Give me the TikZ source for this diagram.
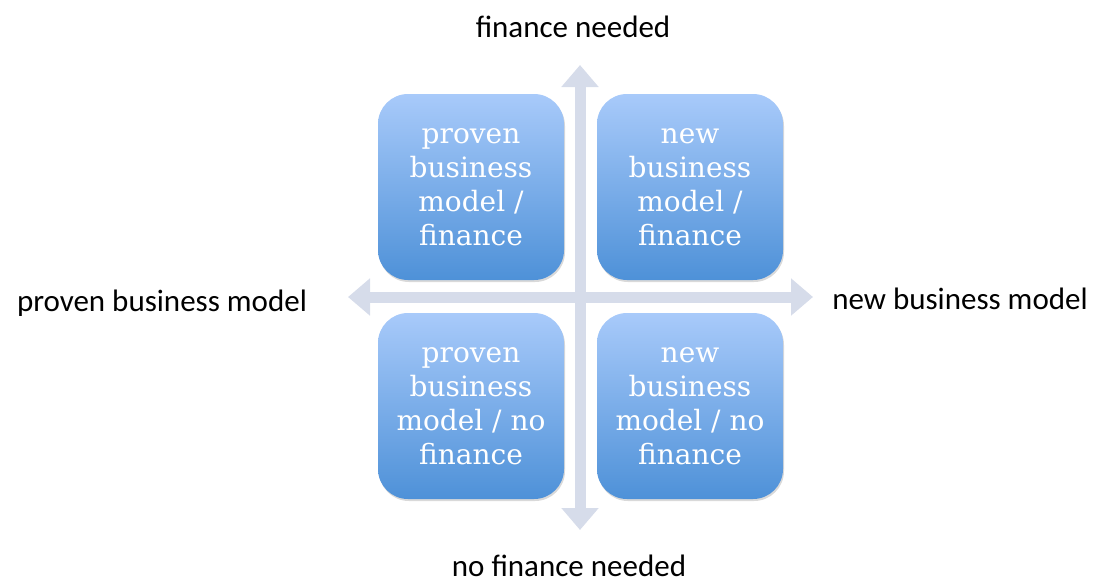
\documentclass[tikz,border=0pt]{standalone}
\usepackage{fontspec}
\setmainfont{Carlito}
\newfontfamily\boxfont{DejaVu Serif}
\usetikzlibrary{arrows.meta}
\usetikzlibrary{shadows}
\tikzset{q/.style={rounded corners=30pt, minimum width=186pt, minimum height=186pt, inner sep=0pt, top color=boxtop, bottom color=boxbot, text=white, align=center, font=\boxfont\fontsize{28}{34}\selectfont, drop shadow={opacity=0.3, shadow xshift=1pt, shadow yshift=-2pt}}}
\tikzset{l/.style={font=\fontsize{31}{31}\selectfont}}
\tikzset{ax/.style={axisgray, line width=11pt, {Triangle[width=36pt,length=22pt]}-{Triangle[width=36pt,length=22pt]}}}
\definecolor{axisgray}{RGB}{214,220,234}
\definecolor{boxtop}{RGB}{168,202,250}
\definecolor{boxbot}{RGB}{78,145,216}

\begin{document}
\begin{tikzpicture}[x=1pt,y=-1pt]
        \useasboundingbox (0,0) rectangle (1097,582);
        \coordinate (up) at (580,65);
        \coordinate (down) at (580,530);
        \coordinate (left) at (348,297);
        \coordinate (right) at (813,297);
        \draw[ax] (down) -- (up);
        \draw[ax] (left) -- (right);
        \node[q] (PF) at (471,187) {proven\\business\\model /\\finance};
        \node[q] (NF) at (690,187) {new\\business\\model /\\finance};
        \node[q] (PN) at (471,406) {proven\\business\\model / no\\finance};
        \node[q] (NN) at (690,406) {new\\business\\model / no\\finance};
        \node[l] (fin) at (573,27) {finance needed};
        \node[l,anchor=base] (nofin) at (569,576) {no finance needed};
        \node[l] (old) at (162,303) {proven business model};
        \node[l] (new) at (960,299) {new business model};
      \end{tikzpicture}
\end{document}
